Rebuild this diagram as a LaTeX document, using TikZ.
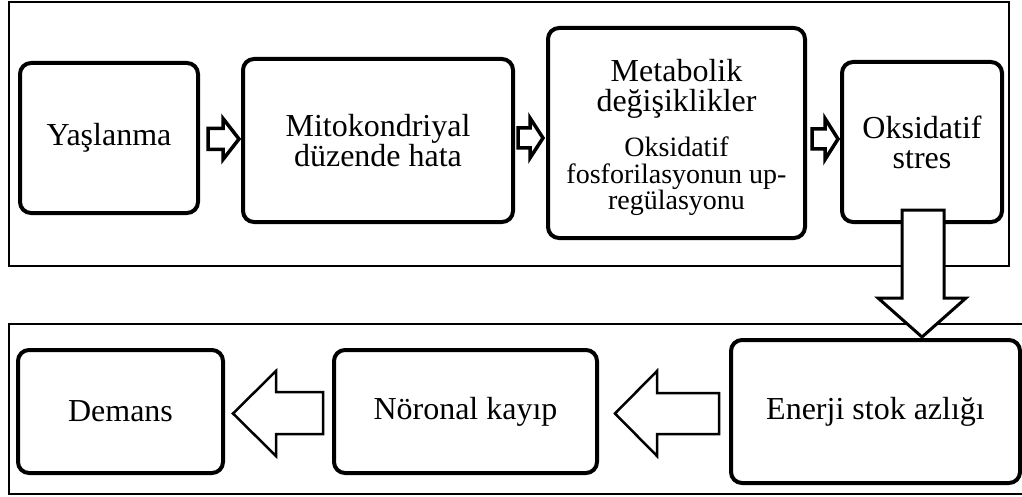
\documentclass[tikz,border=0pt]{standalone}
\usepackage{fontspec}
\setmainfont{Liberation Serif}
\begin{document}
\begin{tikzpicture}[x=1pt,y=-1pt,
  panel/.style={draw, line width=2pt},
  stepbox/.style={draw, line width=4pt, rounded corners=11pt, align=center,
    inner sep=0pt, font=\fontsize{32}{30}\selectfont},
  maintext/.style={align=center, inner sep=0pt, font=\fontsize{32}{30}\selectfont},
  subtext/.style={align=center, inner sep=0pt, font=\fontsize{28}{26}\selectfont},
  smallarrow/.style={draw, fill=white, line width=3.5pt, miter limit=10},
  bigarrow/.style={draw, fill=white, line width=3pt, miter limit=10}]
\useasboundingbox (0,0) rectangle (1022,497);

% two panels
\draw[panel] (9,2) rectangle (1009,266);
\draw[panel] (1030,324) -- (9,324) -- (9,494) -- (1030,494);

% upper chain
\node[stepbox, minimum width=178pt, minimum height=150pt] (yas) at (109,138) {Yaşlanma};
\node[stepbox, minimum width=270pt, minimum height=163pt] (mito) at (378,140.5)
  {Mitokondriyal\\düzende hata};
\node[stepbox, minimum width=257pt, minimum height=210pt] (meta) at (676.5,133) {};
% multi-line nodes: the base anchor sits on the last line
\node[maintext, anchor=base] (metat) at (676.5,112) {Metabolik\\değişiklikler};
\node[subtext, anchor=base] (metas) at (676.5,209)
  {Oksidatif\\fosforilasyonun up-\\regülasyonu};
\node[stepbox, minimum width=160pt, minimum height=160pt] (oks) at (922,142)
  {Oksidatif\\stres};

% lower chain
\node[stepbox, minimum width=205pt, minimum height=123pt] (dem) at (120.5,411.5) {Demans};
\node[stepbox, minimum width=263pt, minimum height=123pt] (nor) at (465.5,411.5) {Nöronal kayıp};
\node[stepbox, minimum width=289pt, minimum height=143pt] (ene) at (875.5,411.5) {Enerji stok azlığı};

% small block arrows between the upper boxes
\draw[smallarrow] (208,128.5) -- (223,128.5) -- (223,118.5) -- (239,139)
  -- (223,159.5) -- (223,149.5) -- (208,149.5) -- cycle;
\draw[smallarrow] (518,128) -- (530,128) -- (530,118) -- (543,138)
  -- (530,158) -- (530,148) -- (518,148) -- cycle;
\draw[smallarrow] (812,129) -- (825,129) -- (825,118.5) -- (838,139)
  -- (825,159.5) -- (825,149) -- (812,149) -- cycle;

% arrow from the upper panel down to the lower one
\draw[bigarrow] (902,210) -- (944,210) -- (944,298) -- (966,298) -- (922,337)
  -- (878,298) -- (902,298) -- cycle;

% block arrows between the lower boxes
\draw[bigarrow, line width=2.5pt] (323,392) -- (276,392) -- (276,371) -- (233,413.5)
  -- (276,456) -- (276,434) -- (323,434) -- cycle;
\draw[bigarrow, line width=2.5pt] (719,393) -- (657,393) -- (657,371) -- (615,413.5)
  -- (657,456) -- (657,434) -- (719,434) -- cycle;
\end{tikzpicture}
\end{document}
